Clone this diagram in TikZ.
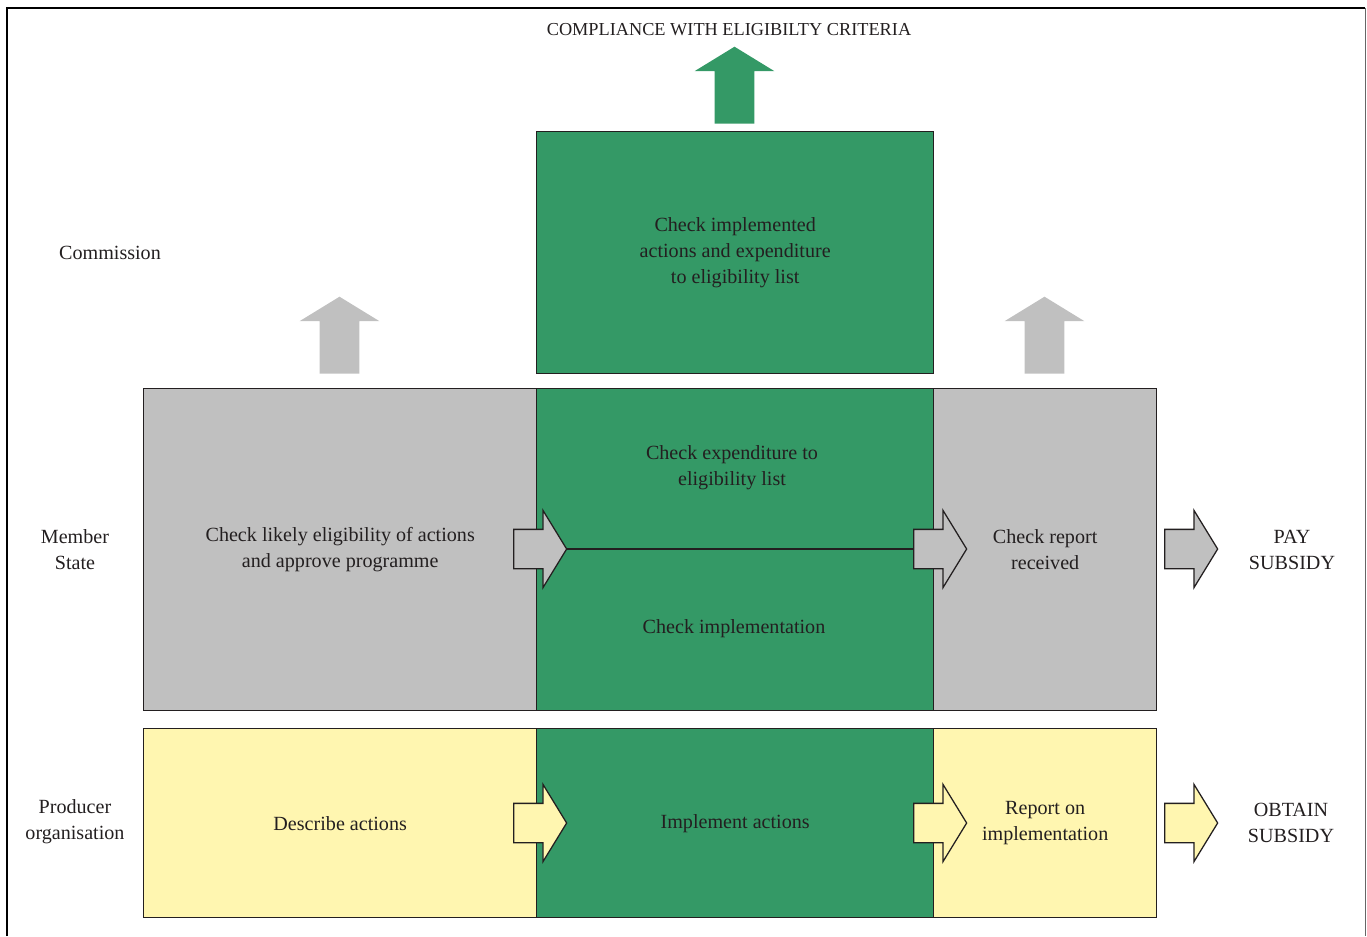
\documentclass[tikz,border=0pt]{standalone}
\usepackage{fontspec}
\setmainfont{Liberation Serif}
\usetikzlibrary{shapes.arrows}
\definecolor{boxgreen}{RGB}{52,153,102}
\definecolor{boxgrey}{RGB}{192,192,192}
\definecolor{boxyellow}{RGB}{255,246,176}
\definecolor{txt}{RGB}{35,31,32}
\begin{document}
\begin{tikzpicture}[x=0.025cm,y=-0.025cm,
	font=\fontsize{14.3}{18.5}\selectfont,
	box/.style={draw=txt, line width=0.9pt, anchor=north west, inner sep=0, align=center, text=txt},
	harrow/.style={single arrow, draw=txt, line width=0.9pt, inner sep=0, text height=0.475cm, text depth=0.475cm, single arrow head extend=0.475cm, single arrow tip angle=117, minimum height=1.325cm, anchor=tail},
	varrow/.style={single arrow, rotate=90, inner sep=0, text height=0.4875cm, text depth=0.4875cm, single arrow head extend=0.5cm, single arrow tip angle=117, minimum height=1.925cm, anchor=tail},
	lbl/.style={align=center, text=txt}]
	\useasboundingbox (0,0) rectangle (1367,936);
	\draw[line width=2pt] (7,936) -- (7,8) -- (1365,8);
	\draw[line width=0.6pt, black!60] (1365,8) -- (1365,936);
	
	\node[lbl, font=\fontsize{13}{16}\selectfont] (title) at (729,30) {COMPLIANCE WITH ELIGIBILTY CRITERIA};
	\node[lbl] (com) at (110,253) {Commission};
	\node[lbl] (ms) at (75,550) {Member\\State};
	\node[lbl] (po) at (75,822) {Producer\\organisation};
	
	\node[box, fill=boxgreen, minimum width=9.925cm, minimum height=6.05cm] (chk) at (536,131) {Check implemented\\actions and expenditure\\to eligibility list};
	
	\node[box, fill=boxgrey, minimum width=9.825cm, minimum height=8.05cm] (msl) at (143,388) {Check likely eligibility of actions\\and approve programme};
	\node[box, fill=boxgreen, minimum width=9.925cm, minimum height=8.05cm] (msm) at (536,388) {};
	\node[box, fill=boxgrey, minimum width=5.575cm, minimum height=8.05cm] (msr) at (933,388) {Check report\\received};
	\node[lbl] (exp) at (732,468) {Check expenditure to\\eligibility list};
	\node[lbl] (imp) at (734,629) {Check implementation};
	
	\node[box, fill=boxyellow, minimum width=9.825cm, minimum height=4.725cm] (pol) at (143,728) {Describe actions};
	\node[box, fill=boxgreen, minimum width=9.925cm, minimum height=4.725cm] (pom) at (536,728) {Implement actions};
	\node[box, fill=boxyellow, minimum width=5.575cm, minimum height=4.725cm] (por) at (933,728) {Report on\\implementation};
	
	\node[lbl] (pay) at (1292,550) {PAY\\SUBSIDY};
	\node[lbl] (obt) at (1291,823) {OBTAIN\\SUBSIDY};
	
	% arrows
	\node[varrow, fill=boxgreen] (up) at (734.5,124) {};
	\node[varrow, fill=boxgrey] (upl) at (339.5,374) {};
	\node[varrow, fill=boxgrey] (upr) at (1044.5,374) {};
	
	\node[harrow, fill=boxgrey] (m1) at (513,549) {};
	\node[harrow, fill=boxgrey] (m2) at (913,549) {};
	\node[harrow, fill=boxgrey] (m3) at (1164,549) {};
	\node[harrow, fill=boxyellow] (p1) at (513,823) {};
	\node[harrow, fill=boxyellow] (p2) at (913,823) {};
	\node[harrow, fill=boxyellow] (p3) at (1164,823) {};
	
	\draw[txt, line width=0.9pt] (m1.tip) -- (m2.tail);
\end{tikzpicture}
\end{document}
